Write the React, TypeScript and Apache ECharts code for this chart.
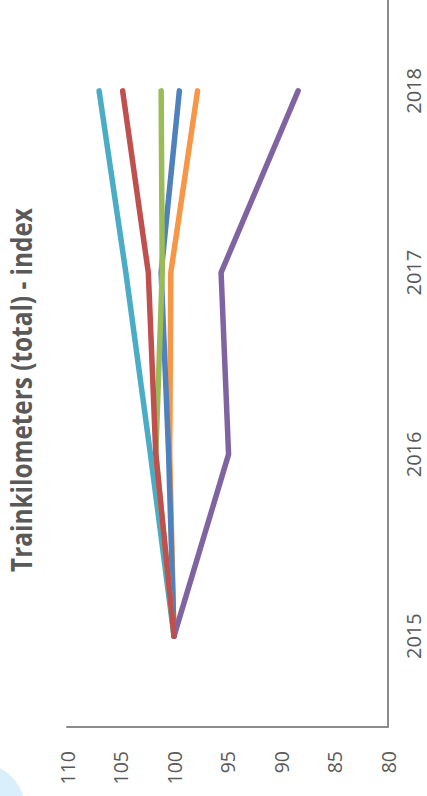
import React, { useEffect, useRef } from 'react';
import * as echarts from 'echarts';

const years = ['2015', '2016', '2017', '2018'];
const valueTicks = { min: 80, max: 110, interval: 5 };
const titleText = 'Trainkilometers (total) - index';

const cyanValues = [100, 102.2, 104.5, 107.0];
const orangeValues = [100, 100.4, 100.3, 97.8];
const blueValues = [100, 100.5, 101.2, 99.5];
const greenValues = [100, 101.7, 101.1, 101.2];
const purpleValues = [100, 94.9, 95.6, 88.4];
const redValues = [100, 101.7, 102.4, 104.8];

const seriesDefs = [
  { name: 'Series 5', color: '#4BACC6', data: cyanValues },
  { name: 'Series 6', color: '#F79646', data: orangeValues },
  { name: 'Series 1', color: '#4F81BD', data: blueValues },
  { name: 'Series 3', color: '#9BBB59', data: greenValues },
  { name: 'Series 4', color: '#8064A2', data: purpleValues },
  { name: 'Series 2', color: '#C0504D', data: redValues },
];

const FONT = 'Open Sans';
const TEXT_COLOR = '#595959';
const AXIS_COLOR = '#8c8c8c';

export default function App() {
  const ref = useRef<HTMLDivElement>(null);
  useEffect(() => {
    const chart = echarts.init(ref.current!, null, { renderer: 'svg' });
    chart.setOption({
      animation: false,
      backgroundColor: '#ffffff',
      grid: { left: 67, right: 39, top: 0, bottom: 69 },
      xAxis: {
        type: 'value',
        min: valueTicks.min,
        max: valueTicks.max,
        interval: valueTicks.interval,
        inverse: true,
        axisLine: { show: true, onZero: false, lineStyle: { color: AXIS_COLOR, width: 2 } },
        axisTick: { show: false },
        splitLine: { show: false },
        axisLabel: {
          rotate: 90,
          margin: 24,
          fontSize: 19.5,
          color: TEXT_COLOR,
          fontFamily: FONT,
        },
      },
      yAxis: {
        type: 'category',
        data: years,
        position: 'right',
        boundaryGap: true,
        axisLine: { show: true, onZero: false, lineStyle: { color: AXIS_COLOR, width: 2 } },
        axisTick: { show: false },
        splitLine: { show: false },
        axisLabel: {
          rotate: 90,
          margin: 15,
          fontSize: 20,
          color: TEXT_COLOR,
          fontFamily: FONT,
        },
      },
      series: seriesDefs.map((s) => ({
        name: s.name,
        type: 'line',
        data: s.data,
        symbol: 'none',
        color: s.color,
        lineStyle: { color: s.color, width: 5.5, cap: 'round', join: 'round' },
      })),
      graphic: [
        {
          type: 'circle',
          shape: { cx: -21, cy: 809, r: 46 },
          style: { fill: '#daeffc' },
          z: -1,
        },
        {
          type: 'text',
          x: 21,
          y: 390,
          rotation: Math.PI / 2,
          scaleX: 0.87,
          style: {
            text: titleText,
            fontSize: 28,
            fontWeight: 'bold',
            fontFamily: FONT,
            fill: TEXT_COLOR,
            align: 'center',
            verticalAlign: 'middle',
          },
        },
      ],
    });
    return () => chart.dispose();
  }, []);
  return (
    <div
      ref={ref}
      style={{ position: 'fixed', left: 0, top: 0, width: 427, height: 796 }}
    />
  );
}
